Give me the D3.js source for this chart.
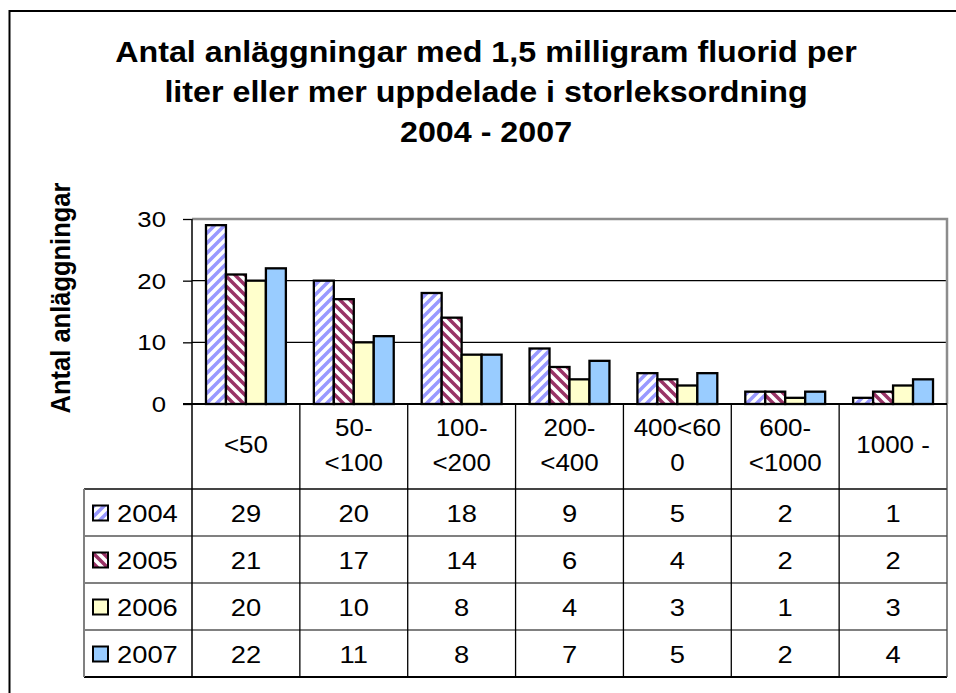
<!DOCTYPE html>
<html>
<head>
<meta charset="utf-8">
<script src="https://cdn.jsdelivr.net/npm/d3@7"></script>
<style>
body { margin: 0; background: #fff; }
text { font-family: Arial, "Liberation Sans", sans-serif; fill: #000; }
</style>
</head>
<body>
<script>
// data
var categories = ["<50", "50-<100", "100-<200", "200-<400", "400<600", "600-<1000", "1000 -"];
// how the category labels wrap in the table header
var catLines = [["<50"], ["50-", "<100"], ["100-", "<200"], ["200-", "<400"], ["400<60", "0"], ["600-", "<1000"], ["1000 -"]];
var years = ["2004", "2005", "2006", "2007"];
var v2004 = [29, 20, 18, 9, 5, 2, 1];
var v2005 = [21, 17, 14, 6, 4, 2, 2];
var v2006 = [20, 10, 8, 4, 3, 1, 3];
var v2007 = [22, 11, 8, 7, 5, 2, 4];
var yTicks = [0, 10, 20, 30];
var titleLines = ["Antal anläggningar med 1,5 milligram fluorid per", "liter eller mer uppdelade i storleksordning", "2004 - 2007"];
var yTitle = "Antal anläggningar";

var series = years.map((y, i) => ({ year: y, values: [v2004, v2005, v2006, v2007][i] }));

var width = 956, height = 693;
var SX = 1.12; // the original text is a bit stretched sideways

var svg = d3.select("body").append("svg")
    .attr("width", width)
    .attr("height", height);

// patterns and fills
var defs = svg.append("defs");
var p1 = defs.append("pattern").attr("id", "p2004")
    .attr("patternUnits", "userSpaceOnUse").attr("width", 10).attr("height", 10);
p1.append("rect").attr("width", 10).attr("height", 10).attr("fill", "#fff");
p1.append("path").attr("d", "M-3,3 l6,-6 M0,10 l10,-10 M7,13 l6,-6")
    .attr("stroke", "#9999ff").attr("stroke-width", 3.5);
var p2 = defs.append("pattern").attr("id", "p2005")
    .attr("patternUnits", "userSpaceOnUse").attr("width", 10).attr("height", 10);
p2.append("rect").attr("width", 10).attr("height", 10).attr("fill", "#fff");
p2.append("path").attr("d", "M-3,7 l6,6 M0,0 l10,10 M7,-3 l6,6")
    .attr("stroke", "#993366").attr("stroke-width", 3.5);

var fills = { "2004": "url(#p2004)", "2005": "url(#p2005)", "2006": "#ffffcc", "2007": "#99ccff" };

function stext(g, x, y, str, size, anchor, weight, rot) {
    return g.append("text")
        .attr("transform", `translate(${x},${y}) scale(${SX},1)` + (rot ? ` rotate(${rot})` : ""))
        .attr("text-anchor", anchor || "middle")
        .style("font-size", size + "px")
        .style("font-weight", weight || "normal")
        .text(str);
}

// outer chart border
svg.append("rect")
    .attr("x", 9.5).attr("y", 11)
    .attr("width", 1000).attr("height", 1000)
    .attr("fill", "none").attr("stroke", "#000").attr("stroke-width", 2);

// title
titleLines.forEach((t, i) => stext(svg, 486, 62 + i * 40, t, 28.8, "middle", "bold"));

// scales (plotTop, not top: window.top is taken)
var plotLeft = 192, plotRight = 947, plotTop = 219, plotBottom = 404;
var x = d3.scaleBand().domain(categories).range([plotLeft, plotRight]);
var xs = d3.scaleBand().domain(years).range([0, x.bandwidth()]).paddingOuter(0.7);
var y = d3.scaleLinear().domain([0, 30]).range([plotBottom, plotTop]);

// gridlines
svg.append("g").selectAll("line")
    .data(yTicks.filter(d => d > 0 && d < 30))
    .enter().append("line")
    .attr("x1", plotLeft).attr("x2", plotRight)
    .attr("y1", d => y(d)).attr("y2", d => y(d))
    .attr("stroke", "#000").attr("stroke-width", 1.3);

// plot area border, top and right
svg.append("path")
    .attr("d", `M${plotLeft},${y(30)}H${plotRight}V${plotBottom}`)
    .attr("fill", "none").attr("stroke", "#8c8c8c").attr("stroke-width", 2.5);

// bars
var groups = svg.append("g").selectAll("g")
    .data(series).enter().append("g");
groups.selectAll("rect")
    .data(s => s.values.map((v, i) => ({ year: s.year, cat: categories[i], v: v })))
    .enter().append("rect")
    .attr("x", d => x(d.cat) + xs(d.year))
    .attr("width", xs.bandwidth())
    .attr("y", d => y(d.v))
    .attr("height", d => y(0) - y(d.v))
    .attr("fill", d => fills[d.year])
    .attr("stroke", "#000").attr("stroke-width", 2.3);

// y axis
var yAxis = svg.append("g")
    .attr("transform", `translate(${plotLeft},0)`)
    .call(d3.axisLeft(y).tickValues(yTicks).tickSize(9).tickPadding(0).tickFormat(d3.format("d")));
yAxis.select(".domain").remove();
yAxis.selectAll(".tick line").attr("stroke", "#000").attr("stroke-width", 1.3);
yAxis.selectAll(".tick text").remove();
yTicks.forEach(d => stext(svg, 166, y(d) + 8, String(d), 23, "end"));

// y axis title
stext(svg, 70, 298, yTitle, 25.5, "middle", "bold", -90);

// data table
var rowTop = 489, rowH = 47, tableLeft = 84;
var tableBottom = rowTop + rowH * years.length;
var table = svg.append("g");

// row separators
years.forEach((yr, i) => {
    if (i === 0) return;
    table.append("line")
        .attr("x1", tableLeft).attr("x2", plotRight)
        .attr("y1", rowTop + i * rowH).attr("y2", rowTop + i * rowH)
        .attr("stroke", "#808080").attr("stroke-width", 2);
});
table.append("line")
    .attr("x1", tableLeft).attr("x2", plotRight)
    .attr("y1", rowTop).attr("y2", rowTop)
    .attr("stroke", "#444").attr("stroke-width", 2);
table.append("line")
    .attr("x1", tableLeft).attr("x2", plotRight)
    .attr("y1", tableBottom).attr("y2", tableBottom)
    .attr("stroke", "#000").attr("stroke-width", 2);
table.append("line")
    .attr("x1", tableLeft).attr("x2", tableLeft)
    .attr("y1", rowTop).attr("y2", tableBottom)
    .attr("stroke", "#808080").attr("stroke-width", 2);

// column separators, the first one is the y axis line
var edges = categories.map(c => x(c)).concat([plotRight]);
edges.forEach((e, i) => {
    table.append("line")
        .attr("x1", e).attr("x2", e)
        .attr("y1", i === 0 ? plotTop : plotBottom)
        .attr("y2", tableBottom)
        .attr("stroke", i === edges.length - 1 ? "#444" : "#000")
        .attr("stroke-width", i === 0 ? 1.5 : 1.3);
});

// x axis line
svg.append("line")
    .attr("x1", plotLeft - 9).attr("x2", plotRight)
    .attr("y1", plotBottom).attr("y2", plotBottom)
    .attr("stroke", "#000").attr("stroke-width", 2);

// category header labels
categories.forEach((c, i) => {
    var lines = catLines[i];
    var cx = x(c) + x.bandwidth() / 2;
    lines.forEach((l, j) => {
        var by = lines.length === 1 ? 453 : 436 + j * 35;
        stext(table, cx, by, l, 23.2, "middle");
    });
});

// rows: legend key, year, values
series.forEach((s, i) => {
    var cy = rowTop + i * rowH + rowH / 2;
    table.append("rect")
        .attr("x", 93).attr("y", cy - 7)
        .attr("width", 15).attr("height", 15)
        .attr("fill", fills[s.year])
        .attr("stroke", "#000").attr("stroke-width", 2);
    stext(table, 117, cy + 9, s.year, 24.4, "start");
    s.values.forEach((v, k) => {
        stext(table, x(categories[k]) + x.bandwidth() / 2, cy + 9, String(v), 24.4, "middle");
    });
});
</script>
</body>
</html>
